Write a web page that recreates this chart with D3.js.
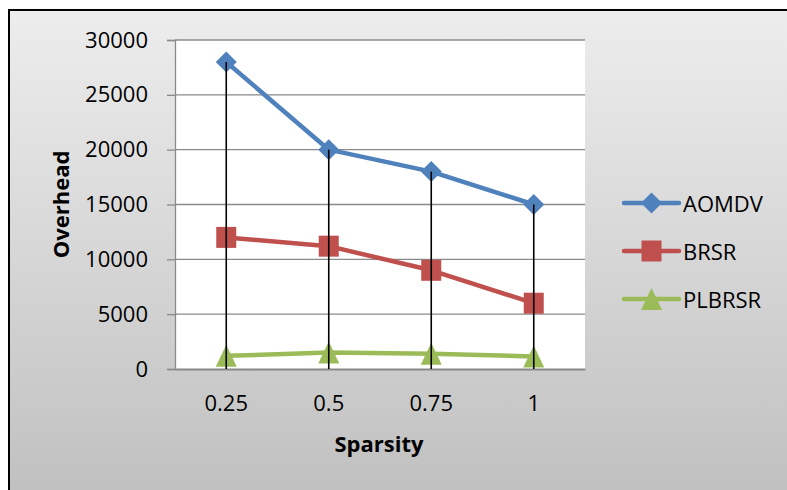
<!DOCTYPE html>
<html>
<head>
<meta charset="utf-8">
<script src="https://cdn.jsdelivr.net/npm/d3@7"></script>
<style>
  html, body { margin: 0; padding: 0; background: #ffffff; }
  svg { display: block; }
  text { font-family: "Open Sans", "Liberation Sans", sans-serif; fill: #000; }
</style>
</head>
<body>
<div id="chart"></div>
<script>
// ---- data ----
const categories = ["0.25", "0.5", "0.75", "1"];
const aomdv  = [28000, 20000, 18000, 15000];
const brsr   = [12000, 11200, 9000, 6000];
const plbrsr = [1200, 1500, 1400, 1150];
const seriesNames = ["AOMDV", "BRSR", "PLBRSR"];
const yTicks = [0, 5000, 10000, 15000, 20000, 25000, 30000];
const xTitle = "Sparsity";
const yTitle = "Overhead";

const W = 787, H = 490;
const plot = { left: 175, right: 585, top: 40, bottom: 369 };
const colors = ["#4F81BD", "#C0504D", "#9BBB59"];
const markers = ["diamond", "square", "triangle"];
const seriesData = [aomdv, brsr, plbrsr];

const svg = d3.select("#chart").append("svg").attr("width", W).attr("height", H);

const defs = svg.append("defs");
const grad = defs.append("linearGradient").attr("id", "bg").attr("x1", 0).attr("y1", 0).attr("x2", 0).attr("y2", 1);
grad.append("stop").attr("offset", "0%").attr("stop-color", "#ededed");
grad.append("stop").attr("offset", "100%").attr("stop-color", "#bdbdbd");

// chart area with border (extends beyond the frame)
svg.append("rect").attr("x", 9).attr("y", 10).attr("width", 820).attr("height", 520)
  .attr("fill", "url(#bg)").attr("stroke", "#000").attr("stroke-width", 2);

// plot area
svg.append("rect").attr("x", plot.left).attr("y", plot.top)
  .attr("width", plot.right - plot.left).attr("height", plot.bottom - plot.top)
  .attr("fill", "#ffffff");

const x = d3.scaleBand().domain(categories).range([plot.left, plot.right]).padding(0);
const y = d3.scaleLinear().domain([0, 30000]).range([plot.bottom, plot.top]);
const cx = c => x(c) + x.bandwidth() / 2;

// gridlines
svg.append("g").selectAll("line").data(yTicks.filter(t => t > 0)).join("line")
  .attr("x1", plot.left).attr("x2", plot.right)
  .attr("y1", d => y(d)).attr("y2", d => y(d))
  .attr("stroke", "#8a8a8a").attr("stroke-width", 1.3);

// y axis
const yAxis = svg.append("g").attr("transform", `translate(${plot.left},0)`)
  .call(d3.axisLeft(y).tickValues(yTicks).tickSize(8).tickPadding(19).tickFormat(d3.format("d")));
yAxis.select(".domain").attr("stroke", "#8a8a8a").attr("stroke-width", 1.3);
yAxis.selectAll(".tick line").attr("stroke", "#8a8a8a").attr("stroke-width", 1.3);
yAxis.selectAll(".tick text").attr("font-size", 22).attr("font-family", "Open Sans, sans-serif").attr("fill", "#000");

// x axis
const xAxis = svg.append("g").attr("transform", `translate(0,${plot.bottom})`)
  .call(d3.axisBottom(x).tickSize(0).tickPadding(26).tickSizeOuter(0));
xAxis.select(".domain").attr("stroke", "#8a8a8a").attr("stroke-width", 2);
xAxis.selectAll(".tick text").attr("font-size", 22).attr("font-family", "Open Sans, sans-serif").attr("fill", "#000");

// axis titles
svg.append("text").attr("x", (plot.left + plot.right) / 2 - 1).attr("y", 443)
  .attr("text-anchor", "middle").attr("dominant-baseline", "central")
  .attr("font-size", 22).attr("font-weight", "bold").text(xTitle);
svg.append("text").attr("transform", `translate(60,${(plot.top + plot.bottom) / 2}) rotate(-90)`)
  .attr("text-anchor", "middle").attr("dominant-baseline", "central")
  .attr("font-size", 22).attr("font-weight", "bold").text(yTitle);

function markerPath(type) {
  if (type === "diamond") return "M0,-10.5L10.5,0L0,10.5L-10.5,0Z";
  if (type === "square") return "M-10,-10.5H10V10.5H-10Z";
  return "M0,-11L10.5,11H-10.5Z";
}

const line = d3.line().x((d, i) => cx(categories[i])).y(d => y(d));

seriesData.forEach((vals, s) => {
  const g = svg.append("g");
  g.append("path").datum(vals).attr("d", line)
    .attr("fill", "none").attr("stroke", colors[s]).attr("stroke-width", 4.5)
    .attr("stroke-linejoin", "round").attr("stroke-linecap", "round");
  g.selectAll("path.m").data(vals).join("path").attr("class", "m")
    .attr("transform", (d, i) => `translate(${cx(categories[i])},${y(d)})`)
    .attr("d", markerPath(markers[s])).attr("fill", colors[s]);
});

// drop lines (from highest point to axis), drawn on top
svg.append("g").selectAll("line").data(categories).join("line")
  .attr("x1", c => cx(c)).attr("x2", c => cx(c))
  .attr("y1", (c, i) => y(d3.max(seriesData, s => s[i])))
  .attr("y2", plot.bottom)
  .attr("stroke", "#000").attr("stroke-width", 1.6);

// legend
const legY = [203, 251, 299];
const lg = svg.append("g");
seriesNames.forEach((name, s) => {
  const gy = legY[s];
  lg.append("line").attr("x1", 624).attr("x2", 679).attr("y1", gy).attr("y2", gy)
    .attr("stroke", colors[s]).attr("stroke-width", 4.5).attr("stroke-linecap", "round");
  lg.append("path").attr("transform", `translate(651.5,${gy})`)
    .attr("d", markerPath(markers[s])).attr("fill", colors[s]);
  lg.append("text").attr("x", 683).attr("y", gy).attr("dominant-baseline", "central")
    .attr("font-size", 22).text(name);
});
</script>
</body>
</html>
